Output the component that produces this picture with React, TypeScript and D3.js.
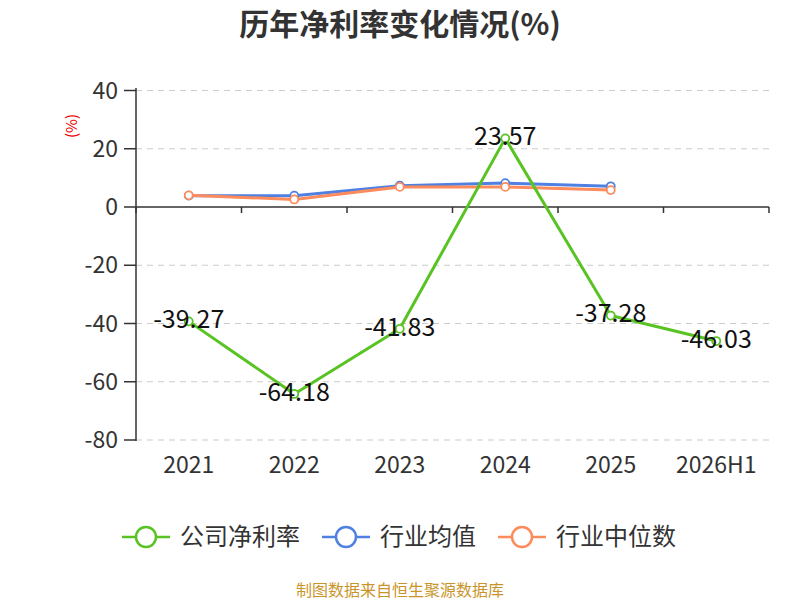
import React from "react";
import * as d3 from "d3";

const categories = ["2021", "2022", "2023", "2024", "2025", "2026H1"];
const companyValues: (number | null)[] = [-39.27, -64.18, -41.83, 23.57, -37.28, -46.03];
const industryAvg: (number | null)[] = [3.9, 3.9, 7.3, 8.2, 7.1, null];
const industryMedian: (number | null)[] = [4.0, 2.6, 6.9, 6.9, 5.8, null];
const yTicks = [40, 20, 0, -20, -40, -60, -80];
const seriesNames = ["公司净利率", "行业均值", "行业中位数"];
const seriesColors = ["#58c322", "#4f80e2", "#fd8b5c"];

const W = 800, H = 600;
const FONT = "'Noto Sans CJK SC', 'Noto Sans', sans-serif";
const LEGEND_FS = 24;

export default function App() {
  const x = d3.scaleBand<string>().domain(categories).range([136, 769]);
  const y = d3.scaleLinear().domain([-80, 40]).range([440, 90.5]);
  const cx = (c: string) => (x(c) as number) + x.bandwidth() / 2;

  const line = d3
    .line<number | null>()
    .defined((d) => d !== null)
    .x((_, i) => cx(categories[i]))
    .y((d) => y(d as number));

  const series = [companyValues, industryAvg, industryMedian];
  const drawOrder = [1, 2, 0];

  const legendX: number[] = [];
  let lx = 122;
  seriesNames.forEach((n) => {
    legendX.push(lx);
    lx += 58 + n.length * LEGEND_FS + 22;
  });

  return (
    <svg width={W} height={H} style={{ display: "block", position: "absolute", left: 0, top: 0 }} fontFamily={FONT}>
      <rect width={W} height={H} fill="#fff" />
      <text x={400} y={35} textAnchor="middle" fontSize={30} fontWeight="bold" fill="#333">
        历年净利率变化情况(%)
      </text>
      <text transform="translate(77,126) rotate(-90)" textAnchor="middle" fontSize={15} fill="#e00">
        (%)
      </text>
      {yTicks.map((t) => (
        <g key={t}>
          {t !== 0 && (
            <line x1={136} x2={769} y1={y(t)} y2={y(t)} stroke="#ccc" strokeDasharray="6,5" strokeWidth={1.2} />
          )}
          <line x1={124} x2={136} y1={y(t)} y2={y(t)} stroke="#333" strokeWidth={1.5} />
          <text x={118} y={y(t)} dy="0.35em" textAnchor="end" fontSize={23} fill="#333">
            {t}
          </text>
        </g>
      ))}
      <line x1={136} x2={136} y1={88} y2={441} stroke="#333" strokeWidth={1.5} />
      <line x1={136} x2={769} y1={y(0)} y2={y(0)} stroke="#333" strokeWidth={1.5} />
      {[...categories.map((c) => x(c) as number), 769].map((v, i) => (
        <line key={i} x1={v} x2={v} y1={y(0)} y2={y(0) + 6} stroke="#333" strokeWidth={1.5} />
      ))}
      {categories.map((c) => (
        <text key={c} x={cx(c)} y={465} dy="0.35em" textAnchor="middle" fontSize={23} fill="#333">
          {c}
        </text>
      ))}
      {drawOrder.map((si) => (
        <g key={si}>
          <path d={line(series[si]) || ""} fill="none" stroke={seriesColors[si]} strokeWidth={3} strokeLinejoin="round" />
          {series[si].map((v, i) =>
            v === null ? null : (
              <circle key={i} cx={cx(categories[i])} cy={y(v)} r={4} fill="#fff" stroke={seriesColors[si]} strokeWidth={1.8} />
            )
          )}
        </g>
      ))}
      {companyValues.map((v, i) =>
        v === null ? null : (
          <text key={i} x={cx(categories[i])} y={y(v) - 2} dy="0.35em" textAnchor="middle" fontSize={25} fill="#111">
            {v.toFixed(2)}
          </text>
        )
      )}
      {seriesNames.map((n, i) => {
        const x0 = legendX[i];
        return (
          <g key={n}>
            <line x1={x0} x2={x0 + 48} y1={537} y2={537} stroke={seriesColors[i]} strokeWidth={2.5} />
            <circle cx={x0 + 24} cy={537} r={10} fill="#fff" stroke={seriesColors[i]} strokeWidth={2.5} />
            <text x={x0 + 58} y={537} dy="0.35em" fontSize={LEGEND_FS} fill="#333">
              {n}
            </text>
          </g>
        );
      })}
      <text x={400} y={590} dy="0.35em" textAnchor="middle" fontSize={16} fill="#c9952b">
        制图数据来自恒生聚源数据库
      </text>
    </svg>
  );
}
